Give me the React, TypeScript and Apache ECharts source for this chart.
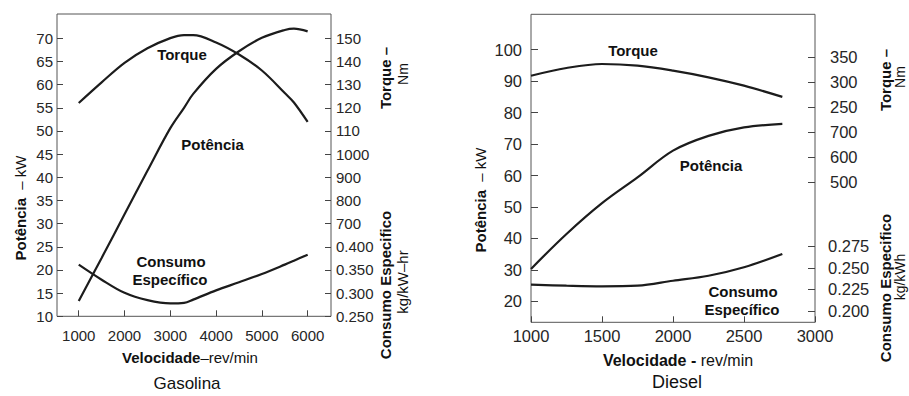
import React, { useEffect, useRef } from "react";
import * as echarts from "echarts";

// ---------- Gasolina ----------
const gasRpm = [1000, 1500, 2000, 2500, 3000, 3300, 3500, 4000, 4500, 5000, 5500, 5700, 6000];
const gasPowerKw = [13.3, 22.6, 32.0, 41.4, 50.6, 55.0, 58.0, 63.4, 67.2, 70.1, 71.8, 72.1, 71.5];
const gasTorqueNm = [122.1, 131.0, 139.4, 145.7, 150.1, 151.4, 151.4, 148.2, 143.0, 136.1, 126.4, 122.3, 113.9];
const gasConsumo = [0.3615, 0.329, 0.3006, 0.2848, 0.2777, 0.279, 0.286, 0.306, 0.3235, 0.3414, 0.3615, 0.370, 0.383];

const gasRpmTicks = [1000, 2000, 3000, 4000, 5000, 6000];
const gasKwTicks = [10, 15, 20, 25, 30, 35, 40, 45, 50, 55, 60, 65, 70];
const gasTorqueTicks = [70, 80, 90, 100, 110, 120, 130, 140, 150];
const gasTorqueTickLabels = ["700", "800", "900", "1000", "110", "120", "130", "140", "150"];
const gasConsumoTicks = [0.25, 0.3, 0.35, 0.4];

// ---------- Diesel ----------
const dieselRpm = [1000, 1250, 1500, 1750, 2000, 2250, 2500, 2770];
const dieselPowerKw = [30.3, 41.4, 51.2, 59.4, 67.9, 72.6, 75.3, 76.4];
const dieselTorqueNm = [313, 328.5, 336.5, 333.2, 323.2, 309.8, 293, 270.5];
const dieselConsumo = [0.2305, 0.2293, 0.2286, 0.2293, 0.2351, 0.2409, 0.2507, 0.2661];

const dieselRpmTicks = [1000, 1500, 2000, 2500, 3000];
const dieselKwTicks = [20, 30, 40, 50, 60, 70, 80, 90, 100];
const dieselTorqueTicks = [100, 150, 200, 250, 300, 350];
const dieselTorqueTickLabels = ["500", "600", "700", "250", "300", "350"];
const dieselConsumoTicks = [0.2, 0.225, 0.25, 0.275];

const FONT = "'Liberation Sans', Arial, Helvetica, sans-serif";
const LINE = "#1c1c1c";
const TICKC = "#444";
const LABELC = "#262626";

function pairs(xs: number[], ys: number[]) {
  return xs.map((x, i) => [x, ys[i]]);
}

function mapLabel(ticks: number[], labels: string[]) {
  return (v: number) => {
    for (let i = 0; i < ticks.length; i++) {
      if (Math.abs(ticks[i] - v) < 1e-6) return labels[i];
    }
    return "";
  };
}

function valAxis(o: any) {
  const ticks = o.ticks;
  return {
    type: "value",
    gridIndex: o.grid,
    position: o.position,
    min: o.min,
    max: o.max,
    axisLine: { show: false, onZero: false },
    splitLine: { show: false },
    axisTick: {
      show: true,
      inside: true,
      length: o.tickLen ?? 6,
      customValues: ticks,
      lineStyle: { color: TICKC, width: 1 },
    },
    axisLabel: {
      show: true,
      customValues: ticks,
      fontFamily: FONT,
      fontSize: o.fontSize,
      color: LABELC,
      margin: o.margin,
      formatter: o.formatter ?? ((v: number) => String(v)),
    },
  };
}

function series(name: string, xi: number, yi: number, data: number[][]) {
  return {
    name,
    type: "line",
    xAxisIndex: xi,
    yAxisIndex: yi,
    data,
    smooth: 0.35,
    showSymbol: false,
    symbol: "none",
    lineStyle: { color: LINE, width: 2.2 },
    silent: true,
  };
}

function label(text: string, x: number, y: number, size = 15, bold = true) {
  return {
    type: "text",
    x,
    y,
    silent: true,
    style: {
      text,
      fill: "#111",
      font: `${bold ? "bold " : ""}${size}px ${FONT}`,
      textAlign: "center",
      textVerticalAlign: "middle",
    },
  };
}

function rich(text: string, x: number, y: number, size: number, rotate: boolean) {
  return {
    type: "text",
    x,
    y,
    rotation: rotate ? Math.PI / 2 : 0,
    silent: true,
    style: {
      text,
      fill: "#111",
      fontFamily: FONT,
      fontSize: size,
      align: "center",
      verticalAlign: "middle",
      textAlign: "center",
      textVerticalAlign: "middle",
      rich: {
        b: { fontWeight: "bold", fontSize: size, fontFamily: FONT, fill: "#111" },
        n: { fontWeight: "normal", fontSize: size, fontFamily: FONT, fill: "#111" },
      },
    },
  };
}

export default function App() {
  const ref = useRef<HTMLDivElement>(null);

  useEffect(() => {
    if (!ref.current) return;
    const chart = echarts.init(ref.current, undefined, { renderer: "svg" });

    const option: any = {
      animation: false,
      backgroundColor: "#ffffff",
      grid: [
        { left: 57, top: 14, width: 274, height: 302.3, show: true, borderColor: "#555", borderWidth: 1, backgroundColor: "transparent" },
        { left: 531, top: 14.3, width: 284, height: 308, show: true, borderColor: "#555", borderWidth: 1, backgroundColor: "transparent" },
      ],
      xAxis: [
        valAxis({ grid: 0, position: "bottom", min: 525, max: 6510, ticks: gasRpmTicks, fontSize: 15, margin: 12, tickLen: 6 }),
        valAxis({ grid: 1, position: "bottom", min: 1000, max: 3000, ticks: dieselRpmTicks, fontSize: 16.5, margin: 5, tickLen: 6 }),
      ],
      yAxis: [
        valAxis({ grid: 0, position: "left", min: 10, max: 75.24, ticks: gasKwTicks, fontSize: 15, margin: 4 }),
        valAxis({ grid: 0, position: "right", min: 30, max: 160.5, ticks: gasTorqueTicks, fontSize: 15, margin: 5, formatter: mapLabel(gasTorqueTicks, gasTorqueTickLabels) }),
        valAxis({ grid: 0, position: "right", min: 0.25, max: 0.9024, ticks: gasConsumoTicks, fontSize: 15, margin: 5, formatter: (v: number) => v.toFixed(3) }),
        valAxis({ grid: 1, position: "left", min: 13.32, max: 111.26, ticks: dieselKwTicks, fontSize: 16.5, margin: 9, tickLen: 7 }),
        valAxis({ grid: 1, position: "right", min: -182, max: 436.3, ticks: dieselTorqueTicks, fontSize: 16.5, margin: 15, tickLen: 7, formatter: mapLabel(dieselTorqueTicks, dieselTorqueTickLabels) }),
        valAxis({ grid: 1, position: "right", min: 0.1869, max: 0.5439, ticks: dieselConsumoTicks, fontSize: 16.5, margin: 13, tickLen: 7, formatter: (v: number) => v.toFixed(3) }),
      ],
      series: [
        series("Gas Potência", 0, 0, pairs(gasRpm, gasPowerKw)),
        series("Gas Torque", 0, 1, pairs(gasRpm, gasTorqueNm)),
        series("Gas Consumo", 0, 2, pairs(gasRpm, gasConsumo)),
        series("Diesel Potência", 1, 3, pairs(dieselRpm, dieselPowerKw)),
        series("Diesel Torque", 1, 4, pairs(dieselRpm, dieselTorqueNm)),
        series("Diesel Consumo", 1, 5, pairs(dieselRpm, dieselConsumo)),
      ],
      graphic: [
        // in-plot annotations, Gasolina
        label("Torque", 182, 54),
        label("Potência", 212.5, 144),
        label("Consumo", 171, 261),
        label("Específico", 170, 279),
        // in-plot annotations, Diesel
        label("Torque", 633, 50),
        label("Potência", 711, 165),
        label("Consumo", 743, 291),
        label("Específico", 742, 309),
        // axis titles, Gasolina
        rich("{b|Potência}{n|  – kW}", 20, 208, 15, true),
        rich("{b|Torque –}", 385, 78, 15, true),
        rich("{n|Nm}", 403, 74, 14, true),
        rich("{b|Consumo Especifico}", 385, 285, 15, true),
        rich("{n|kg/kW–hr}", 402, 282, 15, true),
        rich("{b|Velocidade}{n|–rev/min}", 190, 357, 15, false),
        label("Gasolina", 187, 383, 17, false),
        // axis titles, Diesel
        rich("{b|Potência}{n|  – kW}", 480, 200, 15, true),
        rich("{b|Torque –}", 885, 80, 15, true),
        rich("{n|Nm}", 900, 77, 14, true),
        rich("{b|Consumo Especifico}", 885, 288, 15, true),
        rich("{n|kg/kWh}", 900, 277, 14, true),
        rich("{b|Velocidade -}{n| rev/min}", 678, 360, 16, false),
        label("Diesel", 677, 382, 18, false),
      ],
    };

    chart.setOption(option);
    return () => chart.dispose();
  }, []);

  return (
    <div
      ref={ref}
      style={{ position: "fixed", left: 0, top: 0, width: 909, height: 396, background: "#fff" }}
    />
  );
}
